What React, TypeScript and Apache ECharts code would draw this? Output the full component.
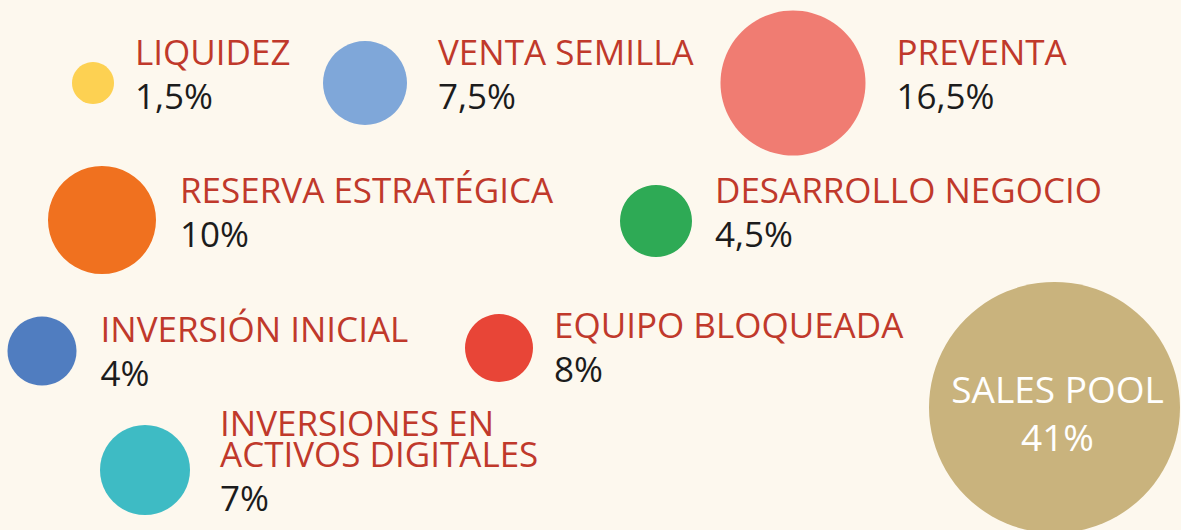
import React, { useEffect, useRef } from "react";
import * as echarts from "echarts";

// Data
const names = [
  "LIQUIDEZ",
  "VENTA SEMILLA",
  "PREVENTA",
  "RESERVA ESTRATÉGICA",
  "DESARROLLO NEGOCIO",
  "INVERSIÓN INICIAL",
  "EQUIPO BLOQUEADA",
  "INVERSIONES EN\nACTIVOS DIGITALES",
  "SALES POOL",
];
const shares = [1.5, 7.5, 16.5, 10, 4.5, 4, 8, 7, 41];

// Layout (bubble positions in a 1181 x 530 frame, bubble diameters)
const bubbleX = [93, 365, 793, 102, 656, 42, 499, 145, 1054.5];
const bubbleY = [83, 83, 83, 220, 221, 351, 348, 470, 407.5];
const bubbleSize = [42, 84, 145, 108, 72, 69, 68, 90, 251];
const labelDistance = [21, 31, 31, 24, 23, 24, 21, 30, 0];
const labelShiftY = [-3.5, -3.5, -3.5, -2.5, -3.5, 5.5, 4.5, -4, 5];

// Styles
const colors = [
  "#fdd152",
  "#7fa7d9",
  "#f07c72",
  "#f0711f",
  "#2eaa55",
  "#507dc0",
  "#e84537",
  "#3ebbc4",
  "#c9b37d",
];

const fmt = (v: number) => String(v).replace(".", ",") + "%";

export default function App() {
  const ref = useRef<HTMLDivElement>(null);
  useEffect(() => {
    document.body.style.margin = "0";
    const chart = echarts.init(ref.current!, undefined, { renderer: "svg" });
    const font = "'Open Sans', 'Noto Sans', sans-serif";
    const data = names.map((n, i) => {
      const last = i === names.length - 1;
      return {
        name: n,
        value: [bubbleX[i], bubbleY[i], shares[i]],
        symbolSize: bubbleSize[i],
        itemStyle: { color: colors[i], opacity: 1 },
        label: last
          ? {
              show: true,
              position: "inside",
              offset: [3, labelShiftY[i]],
              align: "center",
              opacity: 1,
              formatter: () => `{s|${n}}\n{s|${fmt(shares[i])}}`,
              rich: {
                s: {
                  color: "#ffffff",
                  fontSize: 37,
                  lineHeight: 48,
                  fontFamily: font,
                  align: "center",
                },
              },
            }
          : {
              show: true,
              position: "right",
              distance: labelDistance[i],
              offset: [0, labelShiftY[i]],
              opacity: 1,
              formatter: () =>
                n
                  .split("\n")
                  .map((l) => `{n|${l}}`)
                  .join("\n") + `\n{v|${fmt(shares[i])}}`,
              rich: {
                n: {
                  color: "#c0392b",
                  fontSize: 35,
                  lineHeight: 31,
                  fontFamily: font,
                },
                v: {
                  color: "#1c1c1c",
                  fontSize: 35,
                  lineHeight: 57,
                  fontFamily: font,
                },
              },
            },
      };
    });
    chart.setOption({
      animation: false,
      backgroundColor: "#fdf8ee",
      grid: { left: 0, right: 0, top: 0, bottom: 0 },
      xAxis: { type: "value", min: 0, max: 1181, show: false },
      yAxis: { type: "value", min: 0, max: 530, inverse: true, show: false },
      series: [
        {
          type: "scatter",
          symbol: "circle",
          itemStyle: { opacity: 1 },
          data,
          emphasis: { disabled: true },
        },
      ],
    });
    return () => chart.dispose();
  }, []);
  return <div ref={ref} style={{ width: 1181, height: 530 }} />;
}
